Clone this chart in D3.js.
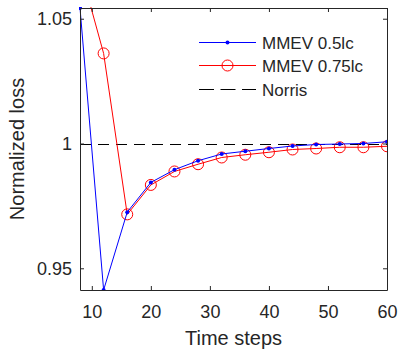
<!DOCTYPE html>
<html>
<head>
<meta charset="utf-8">
<script src="https://cdn.jsdelivr.net/npm/d3@7"></script>
<style>
  body { margin: 0; background: #fff; }
  text { font-family: "Liberation Sans", Arial, sans-serif; fill: #262626; }
</style>
</head>
<body>
<div id="chart"></div>
<script>
// data
const timeSteps = [8, 12, 16, 20, 24, 28, 32, 36, 40, 44, 48, 52, 56, 60];
const mmev05 = [1.0543, 0.9413, 0.9725, 0.9844, 0.9895, 0.9931, 0.9958, 0.9969, 0.9980, 0.9990, 0.9996, 0.9998, 1.0000, 1.0007];
const mmev075 = [1.0705, 1.0361, 0.9716, 0.9834, 0.9888, 0.9917, 0.9944, 0.9955, 0.9965, 0.9976, 0.9980, 0.9985, 0.9985, 0.9989];
const norrisValue = 1;
const xTicks = [10, 20, 30, 40, 50, 60];
const yTicks = [0.95, 1, 1.05];
const seriesNames = ["MMEV 0.5lc", "MMEV 0.75lc", "Norris"];

function drawChart(containerId) {
    const width = 398, height = 349;
    const margin = {top: 8, right: 11, bottom: 59, left: 80};
    const w = width - margin.left - margin.right;
    const h = height - margin.top - margin.bottom;

    const svg = d3.select(`#${containerId}`).append("svg")
        .attr("width", width)
        .attr("height", height);

    const x = d3.scaleLinear().domain([8, 60]).range([0, w]);
    const y = d3.scaleLinear().domain([0.9413, 1.0543]).range([h, 0]);

    svg.append("defs").append("clipPath").attr("id", "clip")
        .append("rect").attr("x", -1).attr("y", -1).attr("width", w + 2).attr("height", h + 2);

    const g = svg.append("g").attr("transform", `translate(${margin.left},${margin.top})`);

    // norris reference line (snapped to the pixel grid so it stays black)
    const yn = Math.round(y(norrisValue)) + 0.5;
    g.append("line")
        .attr("x1", x(8)).attr("x2", x(60))
        .attr("y1", yn).attr("y2", yn)
        .attr("stroke", "#000").attr("stroke-width", 1)
        .attr("stroke-dasharray", "11,7");

    const line = d3.line().x((d, i) => x(timeSteps[i])).y(d => y(d));
    const plot = g.append("g").attr("clip-path", "url(#clip)");

    plot.append("path").datum(mmev075)
        .attr("d", line).attr("fill", "none")
        .attr("stroke", "#ff0000").attr("stroke-width", 1);
    plot.selectAll("circle.red").data(mmev075).join("circle")
        .attr("class", "red")
        .attr("cx", (d, i) => x(timeSteps[i])).attr("cy", d => y(d))
        .attr("r", 5.5).attr("fill", "none")
        .attr("stroke", "#ff0000").attr("stroke-width", 1);

    plot.append("path").datum(mmev05)
        .attr("d", line).attr("fill", "none")
        .attr("stroke", "#0000ff").attr("stroke-width", 1);
    plot.selectAll("circle.blue").data(mmev05).join("circle")
        .attr("class", "blue")
        .attr("cx", (d, i) => x(timeSteps[i])).attr("cy", d => y(d))
        .attr("r", 2).attr("fill", "#0000ff");

    // axes, matlab style: inward ticks on all four sides
    const axisColor = "#262626";
    const styleAxis = sel => {
        sel.select(".domain").attr("stroke", axisColor);
        sel.selectAll(".tick line").attr("stroke", axisColor);
        sel.selectAll(".tick text").style("font-size", "18px").attr("fill", axisColor);
    };
    g.append("g").attr("transform", `translate(0,${h})`)
        .call(d3.axisBottom(x).tickValues(xTicks).tickSizeInner(-4).tickSizeOuter(0).tickPadding(15))
        .call(styleAxis);
    g.append("g")
        .call(d3.axisTop(x).tickValues(xTicks).tickSizeInner(-4).tickSizeOuter(0).tickFormat(""))
        .call(styleAxis);
    g.append("g")
        .call(d3.axisLeft(y).tickValues(yTicks).tickSizeInner(-4).tickSizeOuter(0).tickPadding(8)
            .tickFormat(d3.format("")))
        .call(styleAxis);
    g.append("g").attr("transform", `translate(${w},0)`)
        .call(d3.axisRight(y).tickValues(yTicks).tickSizeInner(-4).tickSizeOuter(0).tickFormat(""))
        .call(styleAxis);

    // axis labels
    svg.append("text")
        .attr("x", margin.left + w / 2).attr("y", 345)
        .attr("text-anchor", "middle")
        .style("font-size", "20px")
        .text("Time steps");
    svg.append("text")
        .attr("transform", "translate(24,149) rotate(-90)")
        .attr("text-anchor", "middle")
        .style("font-size", "20px")
        .text("Normalized loss");

    // legend
    const legend = svg.append("g").attr("transform", "translate(199,42)");
    const rows = [
        {name: seriesNames[0], color: "#0000ff", marker: "dot", dash: null},
        {name: seriesNames[1], color: "#ff0000", marker: "circle", dash: null},
        {name: seriesNames[2], color: "#000", marker: null, dash: "15,6.5"}
    ];
    const rowY = [0, 23, 47];
    rows.forEach((r, i) => {
        const row = legend.append("g").attr("transform", `translate(0,${rowY[i]})`);
        row.append("line").attr("x1", 0).attr("x2", 57)
            .attr("y1", 0.5).attr("y2", 0.5)
            .attr("stroke", r.color).attr("stroke-width", 1)
            .attr("stroke-dasharray", r.dash);
        if (r.marker === "dot") {
            row.append("circle").attr("cx", 28.5).attr("cy", 0.5).attr("r", 2).attr("fill", r.color);
        } else if (r.marker === "circle") {
            row.append("circle").attr("cx", 28.5).attr("cy", 0.5).attr("r", 5.5)
                .attr("fill", "none").attr("stroke", r.color);
        }
        row.append("text").attr("x", 63).attr("y", 6.5)
            .style("font-size", "17px")
            .text(r.name);
    });
}

drawChart("chart");
</script>
</body>
</html>
